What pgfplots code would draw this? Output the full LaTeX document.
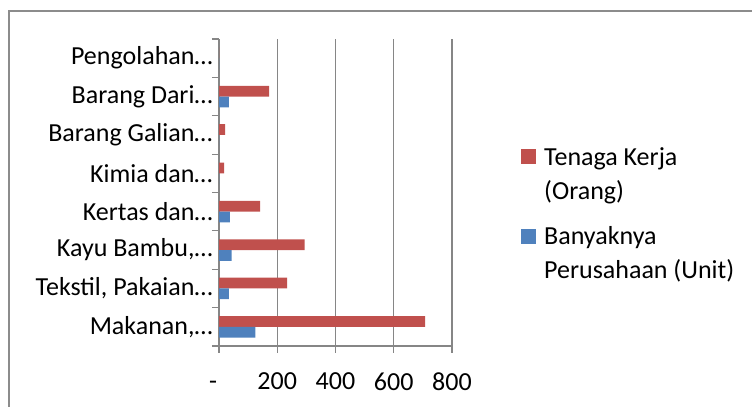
\documentclass[border=0pt]{standalone}
\usepackage{pgfplots}
\pgfplotsset{compat=1.18}
\usepackage{pgfplotstable}
\usepackage{fontspec}
\setmainfont{Carlito}

\definecolor{seriesRed}{HTML}{C0504D}
\definecolor{seriesBlue}{HTML}{4F81BD}
\definecolor{axisGray}{HTML}{868686}
\definecolor{frameGray}{HTML}{8C8C8C}

% idx 0 = bottom category (Makanan) ... 7 = top category (Pengolahan)
\pgfplotstableread{
idx tenaga unit
0   708    125
1   234    34
2   294    43
3   141    37
4   18     0
5   21     0
6   172    34
7   0      0
}\industri

\begin{document}
\begin{tikzpicture}
\useasboundingbox (0,0) rectangle (752bp,407bp);
% chart frame
\draw[frameGray, line width=1.5bp] (9bp,0) -- (9bp,396bp) -- (752bp,396bp);
\begin{axis}[
  at={(219bp,61bp)}, anchor=south west,
  scale only axis, width=233bp, height=307bp,
  xbar, bar width=10.7bp,
  xmin=0, xmax=800, ymin=-0.5, ymax=7.5,
  axis x line*=bottom, axis y line*=left,
  axis line style={axisGray, line width=1.2bp},
  xtick={0,200,400,600,800},
  xticklabels={{\vphantom{0}\makebox[0pt][r]{-\hspace*{2bp}}},200,400,600,800},
  ytick={0,...,7},
  yticklabels={{Makanan,…},{Tekstil, Pakaian…},{Kayu Bambu,…},{Kertas dan…},{Kimia dan…},{Barang Galian…},{Barang Dari…},{Pengolahan…}},
  major y tick style={draw=none},
  minor ytick={-0.5,0.5,...,7.5},
  tick align=outside,
  major tick length=7bp, minor tick length=7bp,
  tick style={axisGray, line width=1.2bp},
  xmajorgrids, grid style={axisGray, line width=1.2bp},
  /pgf/number format/assume math mode=true,
  tick label style={font=\fontsize{26bp}{31bp}\selectfont, text=black},
  xticklabel style={yshift=-16bp},
  yticklabel style={xshift=4bp},
  legend style={at={(1,1)}, anchor=north west, xshift=69bp, yshift=-106bp,
    draw=none, fill=none, inner sep=0pt, row sep=22bp, column sep=6bp,
    font=\fontsize{26bp}{34bp}\selectfont,
    cells={anchor=west, align=left}},
  legend image code/.code={\fill[#1] (0bp,9.5bp) rectangle (15bp,24.5bp);},
]
\addplot[fill=seriesRed, draw=none, bar shift=5.35bp] table[x=tenaga, y=idx] {\industri};
\addlegendentry{Tenaga Kerja\\(Orang)}
\addplot[fill=seriesBlue, draw=none, bar shift=-5.35bp] table[x=unit, y=idx] {\industri};
\addlegendentry{Banyaknya\\Perusahaan (Unit)}
\end{axis}
\end{tikzpicture}
\end{document}
